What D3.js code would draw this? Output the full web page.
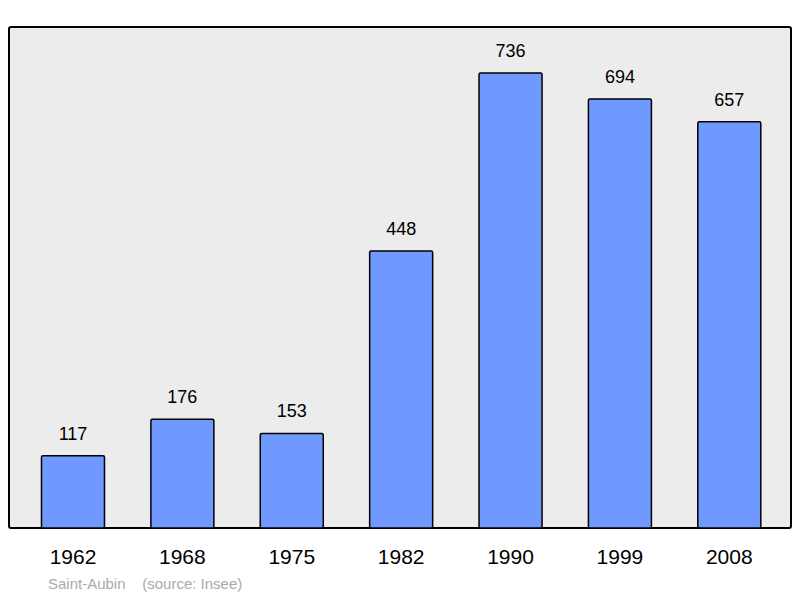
<!DOCTYPE html>
<html><head><meta charset="utf-8">
<script src="https://cdn.jsdelivr.net/npm/d3@7"></script>
<style>body{margin:0;background:#fff}</style></head>
<body><svg id="c" width="800" height="598"></svg>
<script>
const years = ["1962","1968","1975","1982","1990","1999","2008"];
const population = [117,176,153,448,736,694,657];
const svg = d3.select("#c");
const font = "Liberation Sans, Arial, sans-serif";
svg.append("rect").attr("x",9).attr("y",27).attr("width",782).attr("height",501)
  .attr("fill","#ececec").attr("stroke","#000").attr("stroke-width",2).attr("rx",2);
const x = d3.scaleBand().domain(years).range([18.3,784]).padding(0);
const y = d3.scaleLinear().domain([0,736]).range([528,73]);
const bw = 63;
const g = svg.append("g");
g.selectAll("rect").data(years).join("rect")
  .attr("x",d=>x(d)+(x.bandwidth()-bw)/2)
  .attr("y",(d,i)=>y(population[i]))
  .attr("width",bw)
  .attr("height",(d,i)=>528-y(population[i]))
  .attr("fill","#7099ff").attr("stroke","#000").attr("stroke-width",1.5).attr("rx",1.5);
g.selectAll("text.v").data(years).join("text").attr("class","v")
  .attr("x",d=>x(d)+x.bandwidth()/2)
  .attr("y",(d,i)=>y(population[i])-16)
  .attr("text-anchor","middle").attr("font-family",font).attr("font-size",18)
  .text((d,i)=>population[i]);
g.selectAll("text.yr").data(years).join("text").attr("class","yr")
  .attr("x",d=>x(d)+x.bandwidth()/2).attr("y",564)
  .attr("text-anchor","middle").attr("font-family",font).attr("font-size",21)
  .text(d=>d);
svg.append("text").attr("x",48).attr("y",589).attr("font-family",font).attr("font-size",15)
  .attr("fill","#aaa").attr("xml:space","preserve").text("Saint-Aubin    (source: Insee)");
</script></body></html>
